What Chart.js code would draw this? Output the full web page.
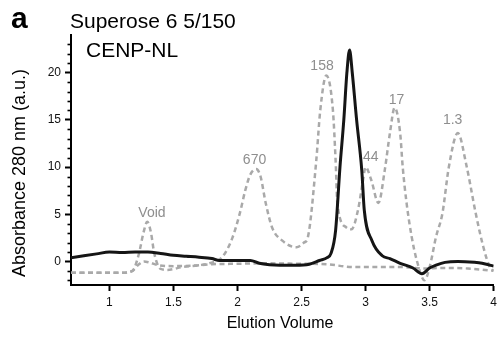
<!DOCTYPE html>
<html>
<head>
<meta charset="utf-8">
<script src="https://cdn.jsdelivr.net/npm/chart.js@4"></script>
<style>
  html, body { margin: 0; padding: 0; background: #fff; }
  #wrap { width: 501px; height: 341px; }
</style>
</head>
<body>
<div id="wrap"><canvas id="secChart" width="501" height="341"></canvas></div>
<script>
// ---- Data (elution volume, absorbance 280 nm) ----
const cenpX = [0.7, 0.8, 0.9, 1.0, 1.1, 1.2, 1.3, 1.4, 1.5, 1.6, 1.7, 1.8, 1.86, 2.0, 2.1, 2.17, 2.25, 2.33, 2.45, 2.56, 2.64, 2.7, 2.73, 2.766, 2.8, 2.83, 2.854, 2.875, 2.896, 2.93, 2.97, 2.99, 3.05, 3.13, 3.19, 3.27, 3.37, 3.44, 3.5, 3.55, 3.62, 3.72, 3.85, 3.91, 4.0];
const cenpY = [0.4, 0.6, 0.8, 1.0, 0.95, 1.0, 1.0, 0.85, 0.65, 0.55, 0.45, 0.3, 0.1, 0.1, 0.1, -0.2, -0.35, -0.4, -0.4, -0.3, 0.1, 0.4, 0.85, 3.3, 10, 15, 20, 22.4, 20, 15, 9.7, 5.4, 2.2, 0.6, 0.3, -0.2, -0.7, -1.3, -0.7, -0.4, -0.1, 0.0, -0.1, -0.2, -0.5];

const stdX = [0.7, 0.9, 1.1, 1.18, 1.23, 1.265, 1.295, 1.325, 1.35, 1.4, 1.45, 1.57, 1.7, 1.78, 1.88, 1.96, 2.02, 2.06, 2.1, 2.146, 2.18, 2.22, 2.27, 2.35, 2.46, 2.52, 2.55, 2.615, 2.646, 2.693, 2.745, 2.766, 2.78, 2.85, 2.89, 2.94, 2.98, 3.0, 3.045, 3.1, 3.15, 3.19, 3.227, 3.27, 3.29, 3.32, 3.36, 3.4, 3.46, 3.5, 3.55, 3.6, 3.65, 3.72, 3.79, 3.86, 3.92, 3.97, 4.0];
const stdY = [-1.2, -1.2, -1.2, -1.0, 0.8, 3.0, 4.2, 3.0, 0.85, -0.8, -0.9, -0.6, -0.4, -0.2, 0.45, 2.5, 5.2, 7.5, 9.2, 9.8, 9.0, 6.2, 3.6, 2.2, 1.5, 2.0, 2.6, 10.7, 16, 19.7, 16, 10.7, 6.1, 3.6, 3.4, 5.4, 8.6, 10.0, 8.6, 6.2, 9.7, 13.6, 16.3, 13.6, 10, 6.2, 2.6, 0.1, -2.0, -0.6, 2.6, 5.1, 10, 13.6, 10, 5.1, 1.5, -0.6, -1.0];

const blankX = [0.7, 0.9, 1.1, 1.18, 1.23, 1.27, 1.31, 1.38, 1.5, 1.65, 1.8, 2.0, 2.2, 2.5, 2.7, 2.9, 3.1, 3.3, 3.45, 3.6, 3.8, 4.0];
const blankY = [-1.2, -1.2, -1.2, -1.0, -0.3, 0.0, -0.1, -0.4, -0.5, -0.45, -0.3, -0.25, -0.2, -0.25, -0.3, -0.6, -0.6, -0.6, -0.75, -0.7, -0.75, -1.0];

// peak labels of the standards (kDa)
const peakNames = ['Void', '670', '158', '44', '17', '1.3'];
const peakX = [1.332, 2.133, 2.66, 3.04, 3.242, 3.68];
const peakY = [4.68, 10.3, 20.3, 10.67, 16.7, 14.6];

// axes
const xTicks = [1, 1.5, 2, 2.5, 3, 3.5, 4];
const yTicks = [0, 5, 10, 15, 20];
const yMinor = [-2, -1, 1, 2, 3, 4, 6, 7, 8, 9, 11, 12, 13, 14, 16, 17, 18, 19, 21, 22, 23];

const pts = (xs, ys) => xs.map((x, i) => ({ x, y: ys[i] }));
const FONT = '"Liberation Sans", Arial, Helvetica, sans-serif';
const gray = '#a9a9a9';
const labelGray = '#8e8e8e';

// ---- Extra drawing: minor ticks, titles, peak labels ----
const decor = {
  id: 'decor',
  afterDraw(chart) {
    const { ctx, scales: { x, y } } = chart;
    ctx.save();
    // minor y ticks
    ctx.strokeStyle = '#000';
    ctx.lineWidth = 1.6;
    yMinor.forEach(v => {
      const py = Math.round(y.getPixelForValue(v)) + 0.5;
      ctx.beginPath();
      ctx.moveTo(x.left - 3.5, py);
      ctx.lineTo(x.left, py);
      ctx.stroke();
    });
    // peak labels
    ctx.fillStyle = labelGray;
    ctx.font = '14px ' + FONT;
    ctx.textAlign = 'center';
    ctx.textBaseline = 'alphabetic';
    peakNames.forEach((n, i) => ctx.fillText(n, x.getPixelForValue(peakX[i]), y.getPixelForValue(peakY[i])));
    // headings
    ctx.fillStyle = '#000';
    ctx.textAlign = 'left';
    ctx.font = 'bold 30px ' + FONT;
    ctx.fillText('a', 11, 28);
    ctx.font = '21px ' + FONT;
    ctx.fillText('Superose 6 5/150', 70, 28);
    ctx.fillText('CENP-NL', 86, 57);
    // axis titles
    ctx.textAlign = 'center';
    ctx.font = '16px ' + FONT;
    ctx.fillText('Elution Volume', 280, 328);
    ctx.translate(25, 173);
    ctx.rotate(-Math.PI / 2);
    ctx.font = '18px ' + FONT;
    ctx.fillText('Absorbance 280 nm (a.u.)', 0, 0);
    ctx.restore();
  }
};

const axisTicks = { color: '#111', font: { size: 12, family: FONT }, padding: 4, maxRotation: 0, autoSkip: false };
const axisGrid = { drawOnChartArea: false, drawTicks: true, tickLength: 6, tickWidth: 2, tickColor: '#000', color: '#000' };

new Chart(document.getElementById('secChart'), {
  type: 'line',
  data: {
    datasets: [
      { label: 'CENP-NL', data: pts(cenpX, cenpY), borderColor: '#151515', borderWidth: 3, pointRadius: 0, fill: false, cubicInterpolationMode: 'monotone' },
      { label: 'Standards', data: pts(stdX, stdY), borderColor: gray, borderWidth: 2.5, borderDash: [5, 3.5], pointRadius: 0, fill: false, cubicInterpolationMode: 'monotone' },
      { label: 'Blank', data: pts(blankX, blankY), borderColor: gray, borderWidth: 2.5, borderDash: [5, 3.5], pointRadius: 0, fill: false, cubicInterpolationMode: 'monotone' }
    ]
  },
  options: {
    responsive: false, animation: false, devicePixelRatio: 1,
    layout: { padding: { top: 35, right: 7, left: 0, bottom: 0 } },
    plugins: { legend: { display: false }, tooltip: { enabled: false } },
    scales: {
      x: {
        type: 'linear', min: 0.7, max: 4,
        afterBuildTicks: s => { s.ticks = xTicks.map(v => ({ value: v })); },
        afterFit: s => { s.height = 56; },
        ticks: { ...axisTicks, callback: v => String(v) },
        grid: axisGrid,
        border: { color: '#000', width: 2 }
      },
      y: {
        type: 'linear', min: -2.5, max: 24,
        afterBuildTicks: s => { s.ticks = yTicks.map(v => ({ value: v })); },
        afterFit: s => { s.width = 71; },
        ticks: { ...axisTicks, callback: v => String(v) },
        grid: axisGrid,
        border: { color: '#000', width: 2 }
      }
    }
  },
  plugins: [decor]
});
</script>
</body>
</html>
